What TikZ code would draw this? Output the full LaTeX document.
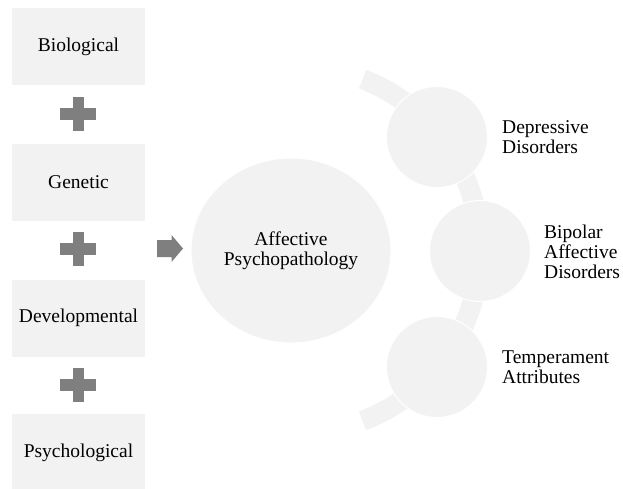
\documentclass[tikz,border=0pt]{standalone}
\usepackage{fontspec}
\setmainfont{Liberation Serif}
\usetikzlibrary{shapes.geometric}
\definecolor{boxgray}{HTML}{F2F2F2}
\definecolor{signgray}{HTML}{7F7F7F}
\begin{document}
\begin{tikzpicture}[x=1pt,y=-1pt,
  every node/.style={font=\fontsize{19.5}{20}\selectfont, text=black, inner sep=0pt},
  factor/.style={fill=boxgray, minimum width=133pt, minimum height=77pt},
  bigcirc/.style={ellipse, fill=boxgray, draw=white, line width=1pt, minimum width=200pt, minimum height=185pt, align=center},
  smallcirc/.style={circle, fill=boxgray, draw=white, line width=1pt, minimum size=101pt},
  outlabel/.style={anchor=west, align=left},
  band/.style={draw=boxgray, line width=20pt},
  plussign/.pic={\fill[signgray] (-18,-6) rectangle (18,6); \fill[signgray] (-5.5,-17) rectangle (5.5,17);},
  arrowsign/.pic={\fill[signgray] (-13,-8.5) -- (1.5,-8.5) -- (1.5,-13.5) -- (13,0) -- (1.5,13.5) -- (1.5,8.5) -- (-13,8.5) -- cycle;}
]
\useasboundingbox (0,0) rectangle (623,488);
\fill[white] (0,0) rectangle (623,488);

% left factors
\node[factor] (bio) at (78.5,46.5) {Biological};
\node[factor] (gen) at (78.5,182) {Genetic};
\node[factor] (dev) at (78.5,318) {Developmental};
\node[factor] (psy) at (78.5,452.5) {Psychological};

\pic (plusA) at (78,114) {plussign};
\pic (plusB) at (78,249) {plussign};
\pic (plusC) at (78,385) {plussign};

% arrow
\pic (arr) at (170,248.5) {arrowsign};

% centre
\node[bigcirc] (aff) at (291,250.5) {Affective\\Psychopathology};

% band
\coordinate (bc) at (297,250);
\draw[band] ([shift={(69:183)}]bc) arc[start angle=69, end angle=-69, radius=183];

% outcome circles
\node[smallcirc] (dep) at (437,137) {};
\node[smallcirc] (bip) at (480,251) {};
\node[smallcirc] (tem) at (437,367) {};

\node[outlabel] (depL) at (502,137) {Depressive\\Disorders};
\node[outlabel] (bipL) at (544,252) {Bipolar\\Affective\\Disorders};
\node[outlabel] (temL) at (502,367) {Temperament\\Attributes};
\end{tikzpicture}
\end{document}
